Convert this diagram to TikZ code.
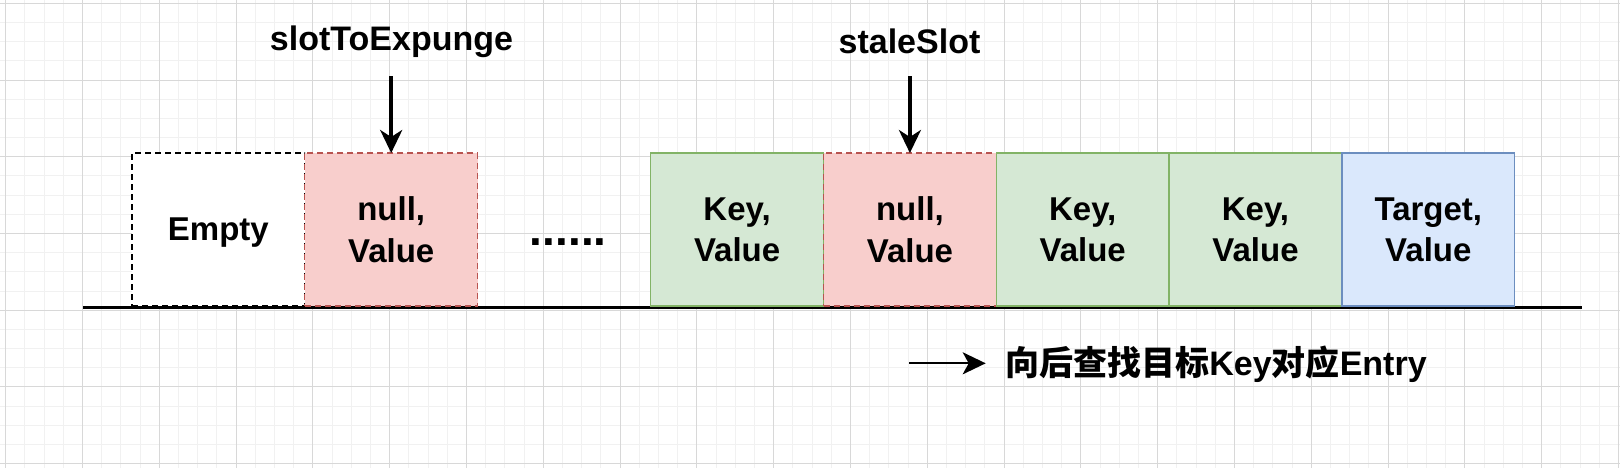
\documentclass[tikz,border=0pt]{standalone}
\usepackage{fontspec}
\setmainfont{Liberation Sans}
\newfontfamily\cjk{Noto Sans CJK SC}
\usetikzlibrary{arrows.meta}
\definecolor{redfill}{HTML}{F8CECC}
\definecolor{redline}{HTML}{B85450}
\definecolor{greenfill}{HTML}{D5E8D4}
\definecolor{greenline}{HTML}{82B366}
\definecolor{bluefill}{HTML}{DAE8FC}
\definecolor{blueline}{HTML}{6C8EBF}
\definecolor{gridminor}{HTML}{F1F1F1}
\definecolor{gridmajor}{HTML}{D8D8D8}
\tikzset{
  slot/.style={rectangle, minimum width=86.4pt, minimum height=76.5pt,
    inner sep=0pt, outer sep=0pt, line width=0.65pt, align=center,
    text depth=0pt, font=\bfseries\fontsize{16.5}{20.8}\selectfont},
  redslot/.style={slot, fill=redfill, draw=redline, dash pattern=on 3pt off 2pt},
  greenslot/.style={slot, fill=greenfill, draw=greenline},
  blueslot/.style={slot, fill=bluefill, draw=blueline},
  emptyslot/.style={slot, fill=white, draw=black, dash pattern=on 3pt off 2pt},
  lbl/.style={inner sep=0pt, anchor=base, font=\bfseries\fontsize{17}{20}\selectfont},
  ptr/.style={line width=1.75pt, -{Stealth[length=11.5pt,width=11pt,inset=3.5pt]}},
  legarrow/.style={line width=1pt, -{Stealth[length=11.5pt,width=11pt,inset=3pt]}}
}
\begin{document}
\begin{tikzpicture}[x=0.5pt,y=-0.5pt]
\useasboundingbox (0,0) rectangle (1620,468);
% background grid
\foreach \i in {0,...,84} {
  \pgfmathsetmacro\xx{5.7+19.2*\i}
  \draw[gridminor, line width=0.5pt] (\xx,0) -- (\xx,468);
}
\foreach \j in {0,...,24} {
  \pgfmathsetmacro\yy{3.3+19.18*\j}
  \draw[gridminor, line width=0.5pt] (0,\yy) -- (1620,\yy);
}
\foreach \i in {0,...,21} {
  \pgfmathsetmacro\xx{5.7+76.8*\i}
  \draw[gridmajor, line width=0.5pt] (\xx,0) -- (\xx,468);
}
\foreach \j in {0,...,6} {
  \pgfmathsetmacro\yy{3.3+76.72*\j}
  \draw[gridmajor, line width=0.5pt] (0,\yy) -- (1620,\yy);
}
% base line
\coordinate (bl) at (83.3,307.7);
\coordinate (br) at (1582,307.7);
\draw[line width=1.6pt] (bl) -- (br);
% slots
\node[emptyslot] (e0) at (218.4,229.5) {Empty};
\node[redslot] (n1) at (391.2,229.5) {null,\\Value};
\node[greenslot] (k1) at (737.1,229.5) {Key,\\Value};
\node[redslot] (n2) at (909.9,229.5) {null,\\Value};
\node[greenslot] (k2) at (1082.7,229.5) {Key,\\Value};
\node[greenslot] (k3) at (1255.5,229.5) {Key,\\Value};
\node[blueslot] (t1) at (1428.3,229.5) {Target,\\Value};
% dots
\node[inner sep=0pt, anchor=base, font=\bfseries\fontsize{23}{26}\selectfont] (dots) at (568.3,245.5) {......};
% pointers
\node[lbl] (lab1) at (391.5,50.5) {slotToExpunge};
\node[lbl] (lab2) at (909.5,53.5) {staleSlot};
\coordinate (a1) at (391.2,76);
\coordinate (a2) at (909.9,76);
\draw[ptr] (a1) -- (n1.north);
\draw[ptr] (a2) -- (n2.north);
% legend
\coordinate (l1) at (909,363.3);
\coordinate (l2) at (985.7,363.3);
\draw[legarrow] (l1) -- (l2);
\node[inner sep=0pt, anchor=base west, font=\bfseries\fontsize{17}{20}\selectfont] (leg) at (1005,375)
  {{\cjk 向后查找目标}Key{\cjk 对应}Entry};
\end{tikzpicture}
\end{document}
